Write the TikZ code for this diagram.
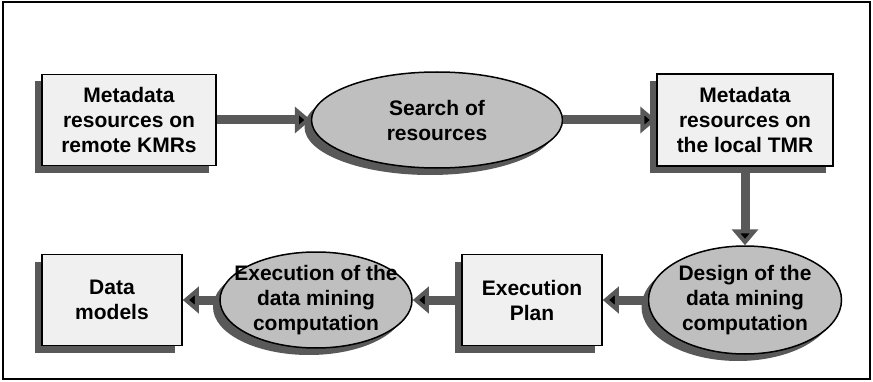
\documentclass[tikz,border=0pt]{standalone}
\usepackage{fontspec}
\setmainfont{Liberation Sans}
\usetikzlibrary{arrows.meta,positioning,shapes.geometric,shadows}
\definecolor{shade}{gray}{0.35}

\begin{document}
\begin{tikzpicture}[x=1pt,y=1pt,node distance=2cm,on grid,
    font=\bfseries\fontsize{21}{25}\selectfont,
    sh/.style={drop shadow={shadow xshift=-7pt,shadow yshift=-7pt,fill=shade,opacity=1}},
    res/.style={rectangle,draw,line width=1.5pt,fill=gray!12,align=center,
        inner sep=0pt,minimum width=140pt,minimum height=91pt,sh},
    proc/.style={ellipse,draw,line width=1.5pt,fill=gray!50,align=center,
        inner sep=-30pt,minimum width=192pt,minimum height=96pt,sh},
    flow/.style={draw=shade,line width=9pt,-{Triangle[length=16pt,width=26pt]}}]

        \useasboundingbox (0,0) rectangle (873,381);
        \draw[line width=1.5pt] (3,2) rectangle (870,379);

        \node[res, minimum width=174pt] (m_remote) at (129,261) {Metadata\\resources on\\remote KMRs};
        \node[proc, minimum width=251pt] (s_res) [right=308pt of m_remote] {Search of\\resources};
        \node[res, minimum width=176pt, minimum height=92pt] (m_local) [right=308pt of s_res] {Metadata\\resources on\\the local TMR};

        \node[proc, minimum width=193pt, minimum height=108pt] (d_comp) [below=180pt of m_local] {Design of the\\data mining\\computation};
        \node[res] (e_plan) [left=213pt of d_comp] {Execution\\Plan};
        \node[proc] (e_comp) [left=216pt of e_plan] {Execution of the\\data mining\\computation};
        \node[res] (d_mod) [left=204pt of e_comp] {Data\\models};

        \path[flow]
        (m_remote) edge (s_res)
        (s_res) edge (m_local)
        (m_local) edge (d_comp)
        (d_comp) edge (e_plan)
        (e_plan) edge (e_comp)
        (e_comp) edge (d_mod)
        ;
      \end{tikzpicture}
\end{document}
